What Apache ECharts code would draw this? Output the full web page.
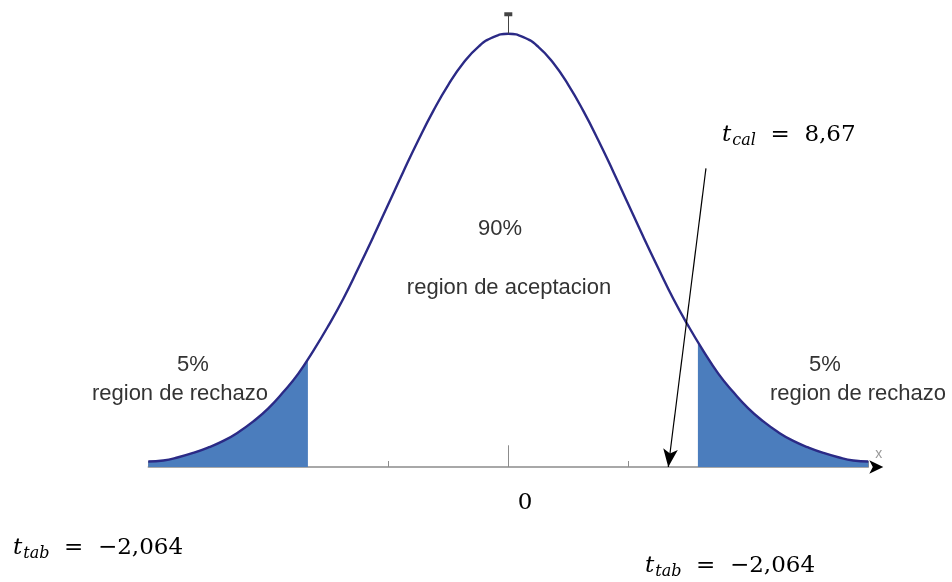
<!DOCTYPE html>
<html>
<head>
<meta charset="utf-8">
<title>Region de aceptacion</title>
<script src="https://cdn.jsdelivr.net/npm/echarts@6/dist/echarts.min.js"></script>
<style>
  html, body { margin: 0; padding: 0; background: #fff; }
  #chart { width: 952px; height: 582px; }
</style>
</head>
<body>
<div id="chart"></div>
<script>
// curva (x en unidades de t, y = altura de la curva)
const curveX = [-3, -2.875, -2.75, -2.625, -2.5, -2.375, -2.25, -2.125, -2, -1.875, -1.75, -1.625,
  -1.5, -1.375, -1.25, -1.125, -1, -0.875, -0.75, -0.625, -0.5, -0.375, -0.25, -0.125, 0,
  0.125, 0.25, 0.375, 0.5, 0.625, 0.75, 0.875, 1, 1.125, 1.25, 1.375, 1.5,
  1.625, 1.75, 1.875, 2, 2.125, 2.25, 2.375, 2.5, 2.625, 2.75, 2.875, 3];
const curveY = [0.005, 0.006, 0.009, 0.013, 0.018, 0.024, 0.032, 0.042, 0.054, 0.069, 0.086, 0.107,
  0.130, 0.155, 0.183, 0.212, 0.242, 0.272, 0.301, 0.328, 0.352, 0.372, 0.387, 0.396, 0.399,
  0.396, 0.387, 0.372, 0.352, 0.328, 0.301, 0.272, 0.242, 0.212, 0.183, 0.155, 0.130,
  0.107, 0.086, 0.069, 0.054, 0.042, 0.032, 0.024, 0.018, 0.013, 0.009, 0.006, 0.005];

// colas sombreadas (5% cada una)
const leftTailX = [-3, -2.875, -2.75, -2.625, -2.5, -2.375, -2.25, -2.125, -2, -1.875, -1.75, -1.67];
const leftTailY = [0.005, 0.006, 0.009, 0.013, 0.018, 0.024, 0.032, 0.042, 0.054, 0.069, 0.086, 0.099];
const rightTailX = [1.58, 1.625, 1.75, 1.875, 2, 2.125, 2.25, 2.375, 2.5, 2.625, 2.75, 2.875, 3];
const rightTailY = [0.114, 0.107, 0.086, 0.069, 0.054, 0.042, 0.032, 0.024, 0.018, 0.013, 0.009, 0.006, 0.005];

// flecha de t calculado
const calArrowFrom = [1.647, 0.275];
const calArrowTo = [1.333, 0];

const zip = (xs, ys) => xs.map((x, i) => [x, ys[i]]);

const mathRich = {
  it: { fontFamily: 'DejaVu Serif', fontStyle: 'italic', fontSize: 23, color: '#000' },
  sub: { fontFamily: 'DejaVu Serif', fontStyle: 'italic', fontSize: 16, color: '#000', padding: [12, 0, 0, 1] },
  n: { fontFamily: 'DejaVu Serif', fontSize: 23, color: '#000' }
};

const sansText = (text, x, y) => ({
  type: 'text',
  style: {
    text: text, x: x, y: y, align: 'center', verticalAlign: 'middle',
    fontFamily: 'Liberation Sans', fontSize: 22, fill: '#333'
  }
});

const mathText = (sub, value, x, y) => ({
  type: 'text',
  style: {
    text: '{it|t}{sub|' + sub + '}{n|  =  ' + value + '}',
    x: x, y: y, align: 'left', verticalAlign: 'middle',
    rich: mathRich
  }
});

const chart = echarts.init(document.getElementById('chart'));

chart.setOption({
  animation: false,
  grid: { left: 148.3, right: 83.7, top: 11, bottom: 115 },
  xAxis: [
    {
      type: 'value',
      min: -3,
      max: 3,
      interval: 1,
      name: 'x',
      nameGap: 7,
      nameTextStyle: { color: '#999', fontSize: 14, verticalAlign: 'bottom', padding: [0, 0, 6, 0] },
      axisLine: { lineStyle: { color: '#8c8c8c', width: 1.5 } },
      axisTick: { inside: true, length: 6, lineStyle: { color: '#8c8c8c' } },
      axisLabel: { show: false },
      splitLine: { show: false }
    },
    {
      // solo la punta negra de la flecha del eje
      type: 'value',
      min: -3,
      max: 3,
      position: 'bottom',
      axisLine: {
        lineStyle: { color: '#000', width: 0 },
        symbol: ['none', 'arrow'],
        symbolSize: [10, 14],
        symbolOffset: [0, 15]
      },
      axisTick: { show: false },
      axisLabel: { show: false },
      splitLine: { show: false }
    }
  ],
  yAxis: { type: 'value', min: 0, max: 0.42, show: false },
  series: [
    {
      type: 'line',
      data: zip(leftTailX, leftTailY),
      smooth: true,
      symbol: 'none',
      lineStyle: { width: 0 },
      areaStyle: { color: '#4b7dbd', opacity: 1 },
      z: 1
    },
    {
      type: 'line',
      data: zip(rightTailX, rightTailY),
      smooth: true,
      symbol: 'none',
      lineStyle: { width: 0 },
      areaStyle: { color: '#4b7dbd', opacity: 1 },
      z: 1
    },
    {
      type: 'line',
      data: zip(curveX, curveY),
      smooth: true,
      symbol: 'none',
      lineStyle: { color: '#2b2a86', width: 2.4 },
      z: 3,
      markLine: {
        silent: true,
        symbol: 'none',
        label: { show: false },
        data: [
          // marca central en 0
          [{ coord: [0, 0], lineStyle: { color: '#8c8c8c', width: 1, type: 'solid' } }, { coord: [0, 0.02] }],
          // marca superior del eje
          [{ coord: [0, 0.399], lineStyle: { color: '#444', width: 1, type: 'solid' } },
           { coord: [0, 0.417], symbol: 'rect', symbolSize: [8, 4] }],
          // flecha t_cal
          [{ coord: calArrowFrom, lineStyle: { color: '#000', width: 1.2, type: 'solid' } },
           { coord: calArrowTo, symbol: 'arrow', symbolSize: [11, 18] }]
        ]
      }
    }
  ],
  graphic: [
    sansText('90%', 500, 229),
    sansText('region de aceptacion', 509, 288),
    sansText('5%', 193, 365),
    sansText('region de rechazo', 180, 394),
    sansText('5%', 825, 365),
    sansText('region de rechazo', 858, 394),
    mathText('cal', '8,67', 722, 135),
    {
      type: 'text',
      style: {
        text: '0', x: 525, y: 503, align: 'center', verticalAlign: 'middle',
        fontFamily: 'DejaVu Serif', fontSize: 23, fill: '#000'
      }
    },
    mathText('tab', '\u22122,064', 13, 548),
    mathText('tab', '\u22122,064', 645, 566)
  ]
});
</script>
</body>
</html>
